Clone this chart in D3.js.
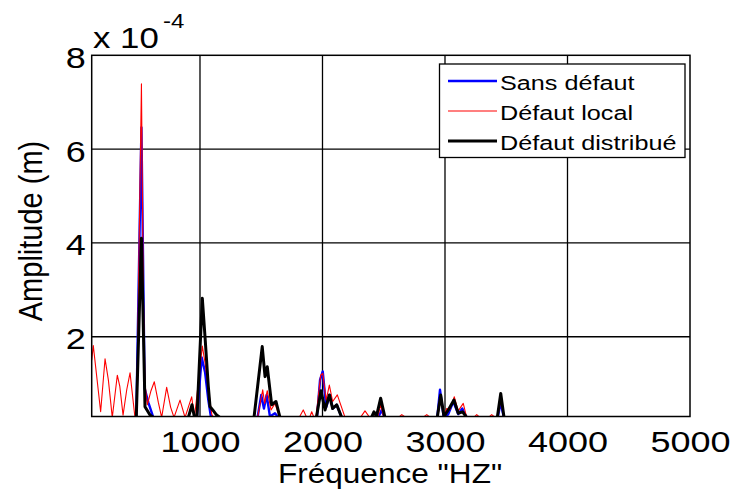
<!DOCTYPE html>
<html><head><meta charset="utf-8">
<script src="https://cdn.jsdelivr.net/npm/d3@7"></script>
<style>
html,body{margin:0;padding:0;background:#fff;}
svg text{font-family:"Liberation Sans",Arial,sans-serif;fill:#000;}
</style></head>
<body>
<svg id="chart" width="734" height="490"></svg>
<script>
// ---- data (amplitude in units of 1e-4 m) ----
const seriesNames = ["Sans défaut", "Défaut local", "Défaut distribué"];
const seriesColors = ["#0000ff", "#ff0000", "#000000"];

const freqSans = [116,480,522,548,578,619,975,1014,1041,1068,1090,1470,1500,1522,1544,1571,1612,1640,1955,1980,2002,2030,2061,2083,2116,2157,2455,2483,2505,2937,2959,2990,3027,3068,3108,3141,3177,3430,3455,3480,5000];
const ampSans  = [0.28,0.28,6.46,0.9,0.60,0.28,0.28,1.56,1.25,0.65,0.28,0.28,0.76,0.47,0.76,0.30,0.37,0.28,0.28,1.08,1.26,0.5,0.76,0.47,0.55,0.28,0.28,0.44,0.28,0.28,0.87,0.28,0.35,0.62,0.35,0.47,0.28,0.28,0.60,0.28,0.28];

const freqLocal = [116,129,170,189,225,252,284,325,345,372,402,429,469,483,522,537,551,570,600,627,660,687,728,760,788,837,878,932,955,1019,1041,1068,1096,1110,1470,1512,1528,1549,1580,1612,1650,1810,1843,1871,1895,1912,1930,1947,1985,2002,2030,2056,2083,2121,2184,2310,2347,2385,2450,2475,2500,2620,2647,2680,2820,2851,2880,2940,2967,2990,3014,3040,3076,3108,3149,3177,3235,3259,3285,3355,3381,3410,3430,3455,3480,5000];
const ampLocal  = [1.50,1.81,0.85,0.40,1.53,1.08,0.28,1.18,0.95,0.33,0.87,1.23,0.28,0.28,7.39,3.0,1.0,0.55,0.85,1.04,0.6,0.28,0.92,0.5,0.28,0.65,0.28,0.72,0.28,1.80,1.45,0.9,0.35,0.28,0.28,0.87,0.58,0.85,0.44,0.58,0.28,0.28,0.44,0.28,0.28,0.40,0.28,0.28,1.18,1.22,0.65,0.97,0.62,0.76,0.28,0.28,0.42,0.28,0.28,0.55,0.28,0.28,0.34,0.28,0.28,0.34,0.28,0.28,0.69,0.30,0.47,0.45,0.72,0.42,0.58,0.28,0.28,0.34,0.28,0.28,0.34,0.28,0.28,0.65,0.28,0.28];

const freqDistrib = [116,480,522,551,592,620,905,935,955,975,1019,1041,1068,1082,1104,1136,1163,1441,1508,1531,1549,1585,1620,1653,1950,1988,2021,2056,2083,2116,2157,2400,2420,2440,2475,2510,2937,2965,2992,3027,3073,3108,3144,3177,3427,3455,3482,5000];
const ampDistrib  = [0.28,0.28,4.10,0.51,0.33,0.28,0.28,0.55,0.28,0.28,2.82,2.0,0.94,0.51,0.44,0.33,0.28,0.28,1.79,1.15,1.36,0.55,0.62,0.28,0.28,0.85,0.44,0.76,0.47,0.55,0.28,0.28,0.40,0.30,0.69,0.28,0.28,0.76,0.30,0.44,0.65,0.37,0.40,0.28,0.28,0.79,0.28,0.28];

const xTicks = [1000, 2000, 3000, 4000, 5000];
const yTicks = [2, 4, 6, 8];
const xDomain = [116, 5000];
const yDomain = [0.3, 8];

// ---- layout ----
const L = 91.7, R = 690, T = 55.3, B = 416.5;
const svg = d3.select("#chart");
const x = d3.scaleLinear().domain(xDomain).range([L, R]);
const y = d3.scaleLinear().domain(yDomain).range([B, T]);

svg.append("defs").append("clipPath").attr("id","clip")
  .append("rect").attr("x",L).attr("y",T).attr("width",R-L).attr("height",B-T);

// grid
const grid = svg.append("g");
grid.selectAll("line.gx").data(xTicks.filter(d=>d<xDomain[1])).enter().append("line")
  .attr("x1",d=>x(d)).attr("x2",d=>x(d)).attr("y1",T).attr("y2",B)
  .attr("stroke","#000").attr("stroke-width",1.3);
grid.selectAll("line.gy").data(yTicks.filter(d=>d<yDomain[1])).enter().append("line")
  .attr("y1",d=>y(d)).attr("y2",d=>y(d)).attr("x1",L).attr("x2",R)
  .attr("stroke","#000").attr("stroke-width",1.3);

// series
const lineW = [2.4, 1.1, 3.0];
const series = [
  {f:freqSans, a:ampSans},
  {f:freqLocal, a:ampLocal},
  {f:freqDistrib, a:ampDistrib}
];
const line = d3.line().x(d=>x(d[0])).y(d=>y(d[1]));
const plot = svg.append("g").attr("clip-path","url(#clip)");
series.forEach((s,i)=>{
  plot.append("path").datum(s.f.map((f,j)=>[f,s.a[j]]))
    .attr("d",line).attr("fill","none")
    .attr("stroke",seriesColors[i]).attr("stroke-width",lineW[i])
    .attr("stroke-linejoin","round");
});

// axes box
svg.append("rect").attr("x",L).attr("y",T).attr("width",R-L).attr("height",B-T)
  .attr("fill","none").attr("stroke","#000").attr("stroke-width",1.5);

// tick labels via d3 axes
const xAxis = d3.axisBottom(x).tickValues(xTicks).tickSize(0).tickPadding(0).tickFormat(d3.format("d"));
const gx = svg.append("g").attr("transform",`translate(0,${B})`).call(xAxis);
gx.select(".domain").remove();
gx.selectAll("text").attr("font-size",30).attr("dy",null).attr("y",null)
  .attr("text-anchor","middle")
  .attr("transform","translate(0,35) scale(1.2,1)");

const yAxis = d3.axisLeft(y).tickValues(yTicks).tickSize(0).tickPadding(0).tickFormat(d3.format("d"));
const gy = svg.append("g").attr("transform",`translate(${L},0)`).call(yAxis);
gy.select(".domain").remove();
gy.selectAll("text").attr("font-size",30).attr("x",null).attr("dy",null)
  .attr("text-anchor","end")
  .attr("transform","translate(-6,12) scale(1.2,1)");

// multiplier
svg.append("text").attr("transform","translate(93,48) scale(1.2,1)")
  .attr("font-size",29).text("x 10");
svg.append("text").attr("transform","translate(163,28) scale(1.2,1)")
  .attr("font-size",20).text("-4");

// axis labels
svg.append("text").attr("transform","translate(390,483) scale(1.17,1)")
  .attr("text-anchor","middle").attr("font-size",27).text('Fréquence "HZ"');
svg.append("text").attr("transform","translate(42,231) scale(1.13,1) rotate(-90)")
  .attr("text-anchor","middle").attr("font-size",29).text("Amplitude (m)");

// legend
const lg = svg.append("g");
lg.append("rect").attr("x",439.5).attr("y",64).attr("width",245.5).attr("height",93.5)
  .attr("fill","#fff").attr("stroke","#000").attr("stroke-width",1.3);
const legW = [2.4, 1.1, 3.0];
seriesNames.forEach((n,i)=>{
  const yy = 81 + i*30;
  lg.append("line").attr("x1",448).attr("x2",497).attr("y1",yy).attr("y2",yy)
    .attr("stroke",seriesColors[i]).attr("stroke-width",legW[i]);
  lg.append("text").attr("transform",`translate(500,${yy+8.5}) scale(1.2,1)`)
    .attr("font-size",21).text(n);
});
</script>
</body></html>
